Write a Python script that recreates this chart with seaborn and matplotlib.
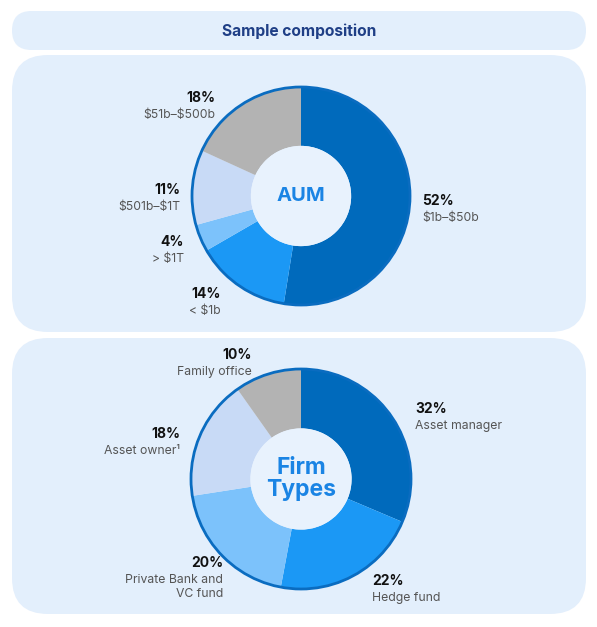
import matplotlib
matplotlib.use("Agg")
import matplotlib.pyplot as plt
from matplotlib.patches import FancyBboxPatch, Circle
import seaborn as sns

# data
aum_labels = ["$1b–$50b", "< $1b", "> $1T", "$501b–$1T", "$51b–$500b"]
aum_values = [52, 14, 4, 11, 18]
firm_labels = ["Asset manager", "Hedge fund", "Private Bank and\nVC fund", "Asset owner¹", "Family office"]
firm_values = [32, 22, 20, 18, 10]

sns.set_theme(style="white")
plt.rcParams["font.family"] = ["Inter", "DejaVu Sans"]
plt.rcParams["text.parse_math"] = False

palette = ["#006abc", "#1b98f5", "#7cc2fb", "#c8daf6", "#b3b3b3"]
panel_col = "#e3effc"
W, H = 597, 627

fig = plt.figure(figsize=(W / 100, H / 100), dpi=100)
bg = fig.add_axes([0, 0, 1, 1])
bg.set_xlim(0, W)
bg.set_ylim(H, 0)
bg.axis("off")

# panels
bg.add_patch(FancyBboxPatch((12, 11), 574, 39, boxstyle="round,pad=0,rounding_size=19.5",
                            fc=panel_col, ec="none"))
for y0, y1 in [(55, 332), (338, 614)]:
    bg.add_patch(FancyBboxPatch((12, y0), 574, y1 - y0, boxstyle="round,pad=0,rounding_size=36",
                                fc=panel_col, ec="none"))
bg.text(299, 31, "Sample composition", ha="center", va="center", fontsize=11.2,
        fontweight="bold", color="#1f3f86")


def donut(cx, cy, r, values, centre_txt, fs):
    ax = fig.add_axes([(cx - r - 3) / W, (H - cy - r - 3) / H, (2 * r + 6) / W, (2 * r + 6) / H])
    ax.pie(values, colors=palette, startangle=90, counterclock=False,
           wedgeprops=dict(width=0.54, edgecolor="none", linewidth=0))
    ax.add_patch(Circle((0, 0), 1.0, fill=False, ec="#0a6cc0", lw=2))
    ax.add_patch(Circle((0, 0), 0.46, fc="#e8f2fd", ec="none"))
    lim = 1 + 3 / r
    ax.set_xlim(-lim, lim)
    ax.set_ylim(-lim, lim)
    ax.set_aspect("auto")
    ax.axis("off")
    ax.text(0, 0, centre_txt, ha="center", va="center", fontsize=fs, fontweight="bold",
            color="#1a84e4", linespacing=1.0)


donut(301, 196, 109, aum_values, "AUM", 14.5)
donut(301, 479, 110, firm_values, "Firm\nTypes", 16.5)


def label(x, y, pct, txt, ha):
    bg.text(x, y, f"{pct}%", ha=ha, va="center", fontsize=10, fontweight="bold", color="#111111")
    bg.text(x, y + 11, txt, ha=ha, va="top", fontsize=8.8, color="#555555", linespacing=1.2)


aum_pos = [(422, 201, "left"), (221, 294, "right"), (184, 242, "right"),
           (180, 190, "right"), (215, 98, "right")]
for (x, y, ha), v, t in zip(aum_pos, aum_values, aum_labels):
    label(x, y, v, t, ha)

firm_pos = [(415, 409, "left"), (372, 581, "left"), (223, 563, "right"),
            (180, 434, "right"), (252, 355, "right")]
for (x, y, ha), v, t in zip(firm_pos, firm_values, firm_labels):
    label(x, y, v, t, ha)

fig.savefig("out.png", dpi=100)
